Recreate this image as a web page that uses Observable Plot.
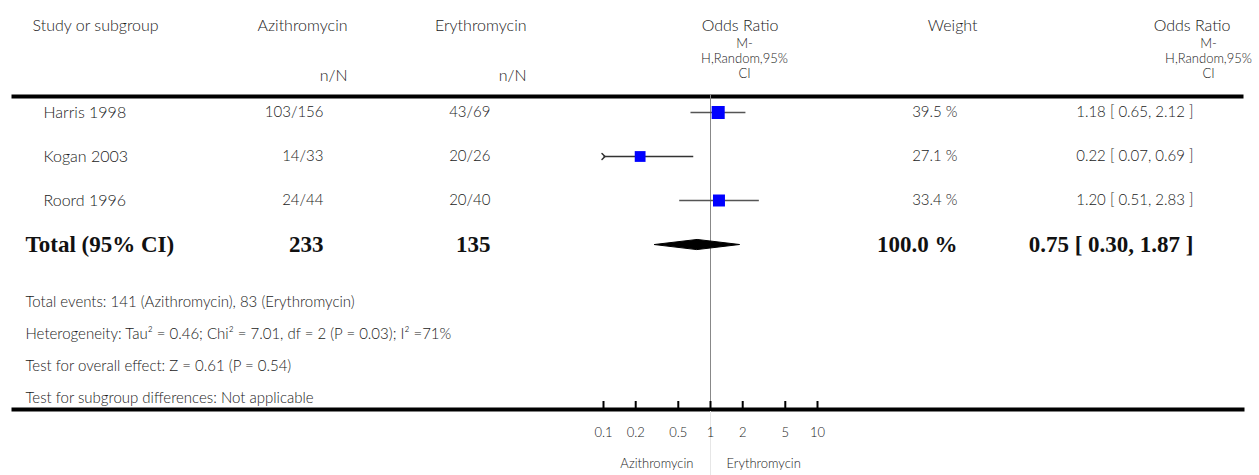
<!DOCTYPE html>
<html><head><meta charset="utf-8">
<script src="https://cdn.jsdelivr.net/npm/d3@7"></script>
<script src="https://cdn.jsdelivr.net/npm/@observablehq/plot@0.6"></script>
<style>body{margin:0;background:#fff}svg{display:block}</style>
</head><body><div id="chart"></div>
<script>
// ---- data ----
const studies = ["Harris 1998", "Kogan 2003", "Roord 1996"];
const aziText = ["103/156", "14/33", "24/44"];
const eryText = ["43/69", "20/26", "20/40"];
const orEst = [1.18, 0.22, 1.20];
const orLo = [0.65, 0.07, 0.51];
const orHi = [2.12, 0.69, 2.83];
const weights = [39.5, 27.1, 33.4];
const totalLabel = "Total (95% CI)";
const totalAzi = "233";
const totalEry = "135";
const totalWeight = 100.0;
const totalOR = [0.75, 0.30, 1.87]; // est, lo, hi
const footerLines = [
  "Total events: 141 (Azithromycin), 83 (Erythromycin)",
  "Heterogeneity: Tau\u00B2 = 0.46; Chi\u00B2 = 7.01, df = 2 (P = 0.03); I\u00B2 =71%",
  "Test for overall effect: Z = 0.61 (P = 0.54)",
  "Test for subgroup differences: Not applicable"
];
const tickValues = [0.1, 0.2, 0.5, 1, 2, 5, 10];
const tickLabels = ["0.1", "0.2", "0.5", "1", "2", "5", "10"];
const favours = ["Azithromycin", "Erythromycin"];
const headStudy = "Study or subgroup";
const headGroups = ["Azithromycin", "Erythromycin"];
const headNN = "n/N";
const headOR = ["Odds Ratio", "M-", "H,Random,95%", "CI"];
const headWeight = "Weight";

// ---- layout ----
const W = 1259, H = 475, MT = 94, MB = 64;
const FH = H - MT - MB;
const FONT = "Lato, 'Open Sans', sans-serif";
const SERIF = "'Liberation Serif', 'DejaVu Serif', serif";
const FS = 15, FSH = 16, FST = 23;
const TXT = {fontWeight: 300};
const BOLD = {fontFamily: SERIF, fontWeight: "bold", fontSize: FST, fill: "#111"};

const fmt2 = v => v.toFixed(2);
const rows = studies.map((s, i) => ({
  row: i + 1, study: s, azi: aziText[i], ery: eryText[i],
  est: orEst[i], lo: orLo[i], hi: orHi[i], weight: weights[i],
  wText: weights[i].toFixed(1) + " %",
  orText: `${fmt2(orEst[i])} [ ${fmt2(orLo[i])}, ${fmt2(orHi[i])} ]`
}));
const total = {
  row: studies.length + 1, label: totalLabel, azi: totalAzi, ery: totalEry,
  wText: totalWeight.toFixed(1) + " %",
  orText: `${fmt2(totalOR[0])} [ ${fmt2(totalOR[1])}, ${fmt2(totalOR[2])} ]`
};
const DH = 0.115; // diamond half-height in row units
const diamond = [
  {x: totalOR[1], y: total.row},
  {x: totalOR[0], y: total.row - DH},
  {x: totalOR[2], y: total.row},
  {x: totalOR[0], y: total.row + DH}
];
const xmin = tickValues[0];
const inside = rows.filter(d => d.lo >= xmin);
const clipped = rows.filter(d => d.lo < xmin);

// header text helper (absolute layout)
function head(text, x, y, anchor, extra = {}) {
  return Plot.text([text], {
    text: d => d, frameAnchor: "top-left", dx: x, dy: y - MT,
    textAnchor: anchor, lineAnchor: "middle", fontSize: FSH, ...TXT, ...extra
  });
}
const orSub = headOR.slice(1).join("\n");
const SUB = {lineAnchor: "top", fontSize: 13, lineHeight: 15 / 13};

const headerMarks = [
  head(headStudy, 32, 25, "start"),
  head(headGroups[0], 347, 25, "end"),
  head(headNN, 347, 75, "end"),
  head(headGroups[1], 526, 25, "end"),
  head(headNN, 526, 75, "end"),
  head(headOR[0], 778, 25, "end"),
  head(orSub, 744, 37, "middle", SUB),
  head(headWeight, 977, 25, "end"),
  head(headOR[0], 1230, 25, "end"),
  head(orSub, 1208, 37, "middle", SUB)
];

const colText = (data, field, x, anchor, extra) =>
  Plot.text(data, {y: "row", text: field, frameAnchor: "left", dx: x, textAnchor: anchor, ...extra});

const chart = Plot.plot({
  width: W, height: H,
  marginTop: MT, marginBottom: MB, marginLeft: 0, marginRight: 0,
  style: {fontFamily: FONT, fontSize: FS + "px", color: "#1a1a1a", background: "#fff"},
  x: {type: "log", domain: [0.1, 10], range: [603, 817], axis: null},
  y: {type: "linear", domain: [1, 4], range: [112, 244], axis: null},
  r: {type: "sqrt", domain: [0, 40], range: [0, 7.4]},
  marks: [
    // horizontal rules
    Plot.frame({fill: "black", stroke: "none", insetLeft: 11, insetRight: 16, insetBottom: FH - 4}),
    Plot.frame({fill: "black", stroke: "none", insetLeft: 11, insetRight: 15, insetTop: FH - 4}),
    // line of no effect
    Plot.ruleX([1], {stroke: "#888", strokeWidth: 1}),
    Plot.ruleX([1], {stroke: "#e6e6e6", strokeWidth: 1, insetTop: FH, insetBottom: -MB}),
    // axis ticks & labels
    Plot.ruleX(tickValues, {stroke: "black", strokeWidth: 2, insetTop: FH - 10}),
    Plot.text(tickValues, {x: d => d, text: (d, i) => tickLabels[i], frameAnchor: "bottom", dy: 25, fontSize: 13, ...TXT}),
    Plot.text([1], {x: d => d, text: () => favours[0], frameAnchor: "bottom", dy: 56, dx: -17, textAnchor: "end", fontSize: 13, ...TXT}),
    Plot.text([1], {x: d => d, text: () => favours[1], frameAnchor: "bottom", dy: 56, dx: 16, textAnchor: "start", fontSize: 13, ...TXT}),
    // CIs
    Plot.link(inside, {x1: "lo", x2: "hi", y1: "row", y2: "row", stroke: "#555", strokeWidth: 1.5}),
    Plot.link(clipped, {x1: () => xmin, x2: "hi", y1: "row", y2: "row", stroke: "#333", strokeWidth: 1.5, markerStart: "arrow"}),
    Plot.dot(rows, {x: "est", y: "row", r: "weight", symbol: "square", fill: "#0000ff", stroke: null}),
    Plot.line(diamond, {x: "x", y: "y", fill: "black", stroke: "black", strokeWidth: 1, curve: "linear-closed"}),
    // row texts
    colText(rows, "study", 43, "start", {fontSize: FSH, ...TXT}),
    colText(rows, "azi", 323, "end", {fontSize: FS, ...TXT}),
    colText(rows, "ery", 490, "end", {fontSize: FS, ...TXT}),
    colText(rows, "wText", 957, "end", {fontSize: FS, ...TXT}),
    colText(rows, "orText", 1193, "end", {fontSize: FS, ...TXT}),
    // total row
    colText([total], "label", 25, "start", BOLD),
    colText([total], "azi", 323, "end", BOLD),
    colText([total], "ery", 490, "end", BOLD),
    colText([total], "wText", 957, "end", BOLD),
    colText([total], "orText", 1193, "end", BOLD),
    // footer
    Plot.text([footerLines.join("\n")], {text: d => d, frameAnchor: "top-left", dx: 25, dy: 284 - MT, lineAnchor: "top", lineHeight: 32 / FS, textAnchor: "start", fontSize: FS, ...TXT}),
    ...headerMarks
  ]
});
document.getElementById("chart").append(chart);
</script>
</body></html>
